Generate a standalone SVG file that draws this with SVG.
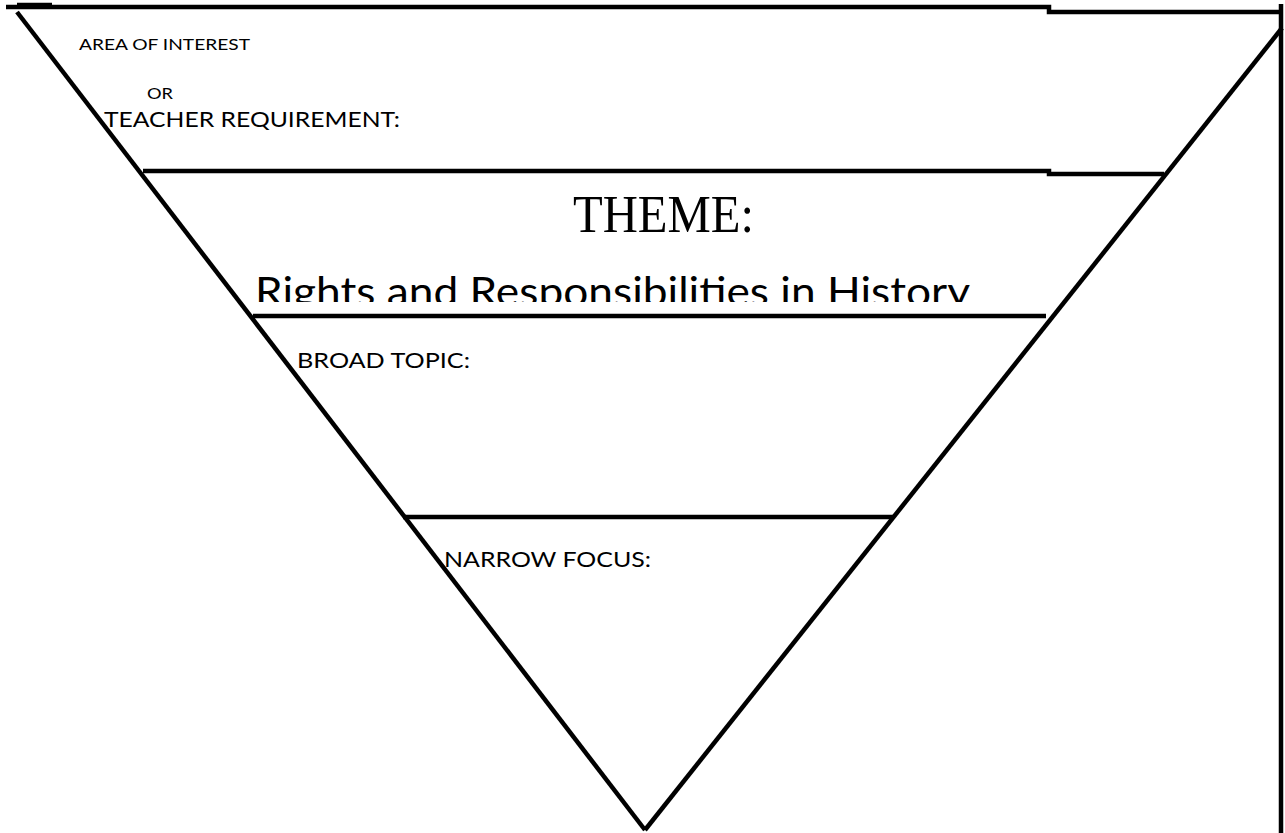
<svg xmlns="http://www.w3.org/2000/svg" width="1285" height="833" viewBox="0 0 1285 833">
  <style>
    .ln { stroke: #000; stroke-width: 4.5; fill: none; stroke-linecap: butt; }
    .sans { font-family: Lato, "Open Sans", "Liberation Sans", sans-serif; fill: #000; }
    .serif { font-family: "Liberation Serif", "Times New Roman", serif; fill: #000; }
  </style>
  <defs>
    <clipPath id="themeClip">
      <rect x="0" y="250" width="1285" height="52"/>
    </clipPath>
  </defs>
  <rect width="1285" height="833" fill="#fff"/>

  <!-- funnel outline and band dividers -->
  <g id="connectors">
    <polyline class="ln" points="6,7 1049,7 1049,12 1281,12"/>
    <line class="ln" x1="17" y1="5" x2="52" y2="5"/>
    <line class="ln" x1="1281" y1="4" x2="1281" y2="833" stroke-width="3"/>
    <line class="ln" x1="17" y1="12" x2="645" y2="830"/>
    <line class="ln" x1="1282" y1="28" x2="645" y2="830"/>
    <polyline class="ln" points="143,171 1049,171 1049,174 1164,174"/>
    <line class="ln" x1="253" y1="316" x2="1046" y2="316"/>
    <line class="ln" x1="403" y1="517" x2="894" y2="517"/>
  </g>

  <g id="area">
    <text class="sans" x="79" y="50" font-size="16" textLength="171" lengthAdjust="spacingAndGlyphs">AREA OF INTEREST</text>
    <text class="sans" x="147" y="99" font-size="16" textLength="26" lengthAdjust="spacingAndGlyphs">OR</text>
    <text class="sans" x="104" y="127" font-size="21" textLength="296" lengthAdjust="spacingAndGlyphs">TEACHER REQUIREMENT:</text>
  </g>

  <g id="theme">
    <text class="serif" x="573" y="232" font-size="53" textLength="181" lengthAdjust="spacingAndGlyphs">THEME:</text>
    <text class="sans" x="255" y="306" font-size="41" textLength="715" lengthAdjust="spacingAndGlyphs" clip-path="url(#themeClip)">Rights and Responsibilities in History</text>
  </g>

  <g id="broad">
    <text class="sans" x="297" y="368" font-size="21" textLength="173" lengthAdjust="spacingAndGlyphs">BROAD TOPIC:</text>
  </g>

  <g id="narrow">
    <text class="sans" x="444" y="567" font-size="21" textLength="207" lengthAdjust="spacingAndGlyphs">NARROW FOCUS:</text>
  </g>
</svg>
